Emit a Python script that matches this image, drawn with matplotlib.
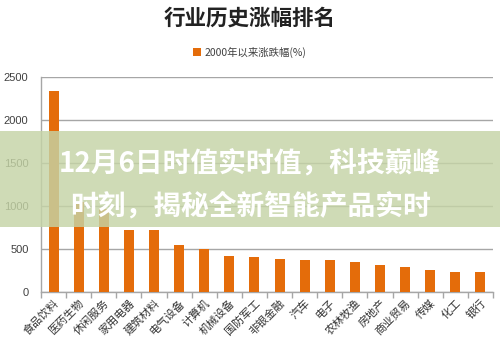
import matplotlib
matplotlib.use("Agg")
import matplotlib.pyplot as plt
from matplotlib.patches import Rectangle
import numpy as np

plt.rcParams['font.family'] = ['Noto Sans CJK SC', 'DejaVu Sans']

industries = ['食品饮料', '医药生物', '休闲服务', '家用电器', '建筑材料', '电气设备',
              '计算机', '机械设备', '国防军工', '非银金融', '汽车', '电子',
              '农林牧渔', '房地产', '商业贸易', '传媒', '化工', '银行']
gains = [2340, 1045, 965, 725, 725, 540, 498, 422, 400, 380, 370, 368,
         350, 318, 285, 254, 235, 233]
y_ticks = [0, 500, 1000, 1500, 2000, 2500]

title = '行业历史涨幅排名'
series_name = '2000年以来涨跌幅(%)'
banner_lines = ['12月6日时值实时值，科技巅峰', '时刻，揭秘全新智能产品实时']

orange = '#E46C0A'
grid_c = '#A6A6A6'

fig = plt.figure(figsize=(5.0, 3.59), dpi=100)
ax = fig.add_axes([0.082, 0.187, 0.904, 0.599])

x = np.arange(len(industries))
ax.bar(x, gains, width=0.4, color=orange, zorder=3, label=series_name)

ax.set_xlim(-0.5, len(industries) - 0.5)
ax.set_ylim(0, 2500)
ax.set_yticks(y_ticks)
ax.set_yticklabels([str(v) for v in y_ticks], fontsize=8, color='#404040',
                   family=['Liberation Sans', 'DejaVu Sans'])
ax.tick_params(axis='y', length=0, pad=9)
ax.yaxis.grid(True, color=grid_c, linewidth=1.0, zorder=0)

ax.set_xticks(x)
ax.set_xticklabels(industries, rotation=45, ha='right', rotation_mode='anchor',
                   fontsize=8, color='#333333')
ax.tick_params(axis='x', which='major', length=0, pad=4)
ax.set_xticks(np.arange(-0.5, len(industries), 1.0), minor=True)
ax.tick_params(axis='x', which='minor', length=4, color=grid_c, width=1)

for side in ['top', 'right']:
    ax.spines[side].set_visible(False)
for side in ['left', 'bottom']:
    ax.spines[side].set_color(grid_c)
    ax.spines[side].set_linewidth(1.0)

fig.text(0.5, 0.95, title, ha='center', va='center', fontsize=15.5,
         fontweight='bold', color='#222222')
leg = fig.legend(loc='center', bbox_to_anchor=(0.5, 0.855), frameon=False,
                 fontsize=7.5, handlelength=0.7, handleheight=0.7,
                 handletextpad=0.4)
for t in leg.get_texts():
    t.set_color('#404040')

# overlay banner
fig.patches.append(Rectangle((0, 0.368), 1, 0.267, transform=fig.transFigure,
                             facecolor='#C5D4A6', alpha=0.82, zorder=10,
                             edgecolor='none'))
fig.text(0.5, 0.546, banner_lines[0], ha='center', va='center', fontsize=20,
         fontweight='heavy', color='white', zorder=11)
fig.text(0.5, 0.424, banner_lines[1], ha='center', va='center', fontsize=20,
         fontweight='heavy', color='white', zorder=11)

fig.savefig('out.png', dpi=100)
